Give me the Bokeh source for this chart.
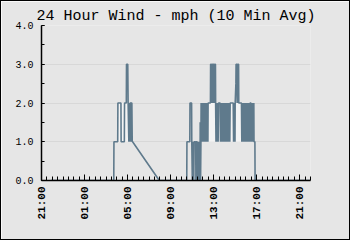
from bokeh.plotting import figure
from bokeh.models import FixedTicker, PrintfTickFormatter, Range1d, ColumnDataSource
from bokeh.embed import file_html
from bokeh.resources import INLINE
import math

# ---- data ----
title_text = "24 Hour Wind - mph (10 Min Avg)"

sample_times = [
    "21:53", "03:43", "03:44", "04:05", "04:06", "04:23", "04:24", "04:42", "04:43", "04:53",
    "04:54", "05:01", "05:03", "05:07", "05:09", "05:12", "05:14", "05:17", "05:19", "05:21",
    "05:24", "05:26", "05:28", "07:57", "10:30", "10:31", "10:47", "10:48", "10:57", "10:58",
    "11:01", "11:03", "11:05", "11:07", "11:09", "11:11", "11:20", "11:21", "11:23", "11:28",
    "11:29", "11:31", "11:33", "11:35", "11:37", "11:39", "11:41", "11:44", "11:45", "11:47",
    "11:49", "11:50", "11:52", "11:54", "11:56", "11:58", "12:00", "12:02", "12:04", "12:06",
    "12:08", "12:10", "12:12", "12:14", "12:16", "12:18", "12:20", "12:22", "12:24", "12:26",
    "12:28", "12:29", "12:42", "12:43", "12:46", "12:48", "12:50", "12:54", "12:56", "12:58",
    "13:03", "13:05", "13:07", "13:10", "13:11", "13:13", "13:15", "13:17", "13:19", "13:21",
    "13:23", "13:25", "13:27", "13:36", "13:38", "13:40", "13:42", "13:44", "13:46", "13:48",
    "13:50", "13:52", "13:54", "13:56", "13:58", "14:00", "14:02", "14:04", "14:06", "14:08",
    "14:10", "14:12", "14:14", "14:16", "14:18", "14:20", "14:22", "14:24", "14:26", "14:28",
    "14:30", "14:32", "14:34", "14:49", "14:51", "14:53", "14:55", "14:57", "14:59", "15:00",
    "15:04", "15:05", "15:09", "15:11", "15:13", "15:19", "15:20", "15:35", "15:37", "15:39",
    "15:41", "15:43", "15:45", "15:47", "15:49", "15:51", "15:53", "15:55", "15:57", "15:59",
    "16:01", "16:03", "16:05", "16:07", "16:09", "16:11", "16:13", "16:15", "16:17", "16:19",
    "16:21", "16:23", "16:28", "16:30", "16:32", "16:34", "16:36", "16:38", "16:40", "16:42",
    "16:44", "16:45", "16:50", "16:51", "21:59",
]
sample_mph = [
    0, 0, 1, 1, 2, 2, 1, 1, 2, 2,
    3, 3, 2, 1, 2, 1, 2, 2, 1, 2,
    2, 1, 1, 0, 0, 1, 1, 2, 2, 1,
    0, 1, 0, 1, 0, 1, 1, 0, 1, 1,
    0, 1, 0, 1, 0, 1, 0, 0, 1.5, 0,
    1, 2, 1, 2, 1, 2, 1, 2, 1, 2,
    1, 2, 1, 2, 1, 2, 1, 2, 1, 2,
    1, 2, 2, 3, 3, 2, 3, 3, 2, 3,
    3, 2, 3, 3, 2, 1, 2, 1, 2, 1,
    2, 1, 2, 2, 1, 2, 1, 2, 1, 2,
    1, 2, 1, 2, 1, 2, 1, 2, 1, 2,
    1, 2, 1, 2, 1, 2, 1, 2, 1, 2,
    1, 2, 2, 2, 1, 2, 1, 2, 1, 2,
    2.5, 3, 3, 2, 3, 3, 2, 2, 1, 2,
    1, 2, 1, 2, 1, 2, 1, 2, 1, 2,
    1, 2, 1, 2, 1, 2, 1, 2, 1, 2,
    1, 2, 2, 1, 2, 1, 2, 1, 2, 1,
    2, 1, 1, 0, 0,
]

# light range band shown behind the busy periods
band_start = ["04:06", "11:49"]
band_end = ["05:27", "16:45"]
band_low = [1, 1]
band_high = [2, 2]

x_tick_labels = ["21:00", "01:00", "05:00", "09:00", "13:00", "17:00", "21:00"]
y_tick_values = [0, 1, 2, 3, 4]


def clock_to_hours(times):
    """hours after 21:00 of the first day, unwrapping across midnight/day."""
    out = []
    prev = -1.0
    for t in times:
        hh, mm = t.split(":")
        h = ((int(hh) * 60 + int(mm) - 21 * 60) % 1440) / 60.0
        while h < prev:
            h += 24.0
        out.append(h)
        prev = h
    return out


xs = clock_to_hours(sample_times)
bs = clock_to_hours(band_start)
be = clock_to_hours(band_end)

BG = "#e6e6e6"
LINE = "#5f7a8c"
FONT = "Liberation Mono"

p = figure(
    width=348, height=238,
    frame_width=269, frame_height=155,
    min_border_left=40, min_border_right=39, min_border_top=24, min_border_bottom=59,
    output_backend="svg", toolbar_location=None,
    x_range=Range1d(0, 25.0), y_range=Range1d(0, 4),
    background_fill_color=BG, border_fill_color=BG,
    title=title_text,
    styles={"border": "1px solid black"},
)
p.outline_line_color = None

p.title.align = "center"
p.title.text_font = FONT
p.title.text_font_size = "15px"
p.title.text_font_style = "normal"
p.title.text_color = "black"
p.title.standoff = 2

# band and series
p.quad(left=bs, right=be, bottom=band_low, top=band_high,
       fill_color="#f4f4f4", line_color=None)
src = ColumnDataSource(dict(x=xs, y=sample_mph))
p.line("x", "y", source=src, line_color=LINE, line_width=1.6)

# x axis
major_x = [i * 4 for i in range(len(x_tick_labels))]
minor_x = [i * 0.5 for i in range(0, 51)]
p.xaxis.ticker = FixedTicker(ticks=major_x, minor_ticks=minor_x)
p.xaxis.major_label_overrides = {v: s for v, s in zip(major_x, x_tick_labels)}
p.xaxis.major_label_orientation = math.pi / 2
p.xaxis.major_label_text_font = FONT
p.xaxis.major_label_text_font_size = "11px"
p.xaxis.major_label_text_font_style = "bold"
p.xaxis.major_label_standoff = 6
p.xaxis.major_tick_in = 6
p.xaxis.major_tick_out = 0
p.xaxis.minor_tick_in = 4
p.xaxis.minor_tick_out = 0

# y axis
p.yaxis.ticker = FixedTicker(ticks=y_tick_values, minor_ticks=[v * 0.5 for v in range(0, 9)])
p.yaxis.formatter = PrintfTickFormatter(format="%.1f")
p.yaxis.major_label_text_font = FONT
p.yaxis.major_label_text_font_size = "10px"
p.yaxis.major_label_standoff = 8
p.yaxis.major_tick_in = 3
p.yaxis.major_tick_out = 0
p.yaxis.minor_tick_in = 3
p.yaxis.minor_tick_out = 0

for ax in (p.xaxis, p.yaxis):
    ax.axis_line_color = "black"
    ax.axis_line_width = 1.5
    ax.major_tick_line_color = "black"
    ax.minor_tick_line_color = "black"
    ax.major_label_text_color = "black"

p.xgrid.grid_line_color = None
p.ygrid.grid_line_color = "#d8d8d8"
p.ygrid.ticker = FixedTicker(ticks=[1, 2, 3, 4])

open("out.html", "w").write(file_html(p, INLINE))
